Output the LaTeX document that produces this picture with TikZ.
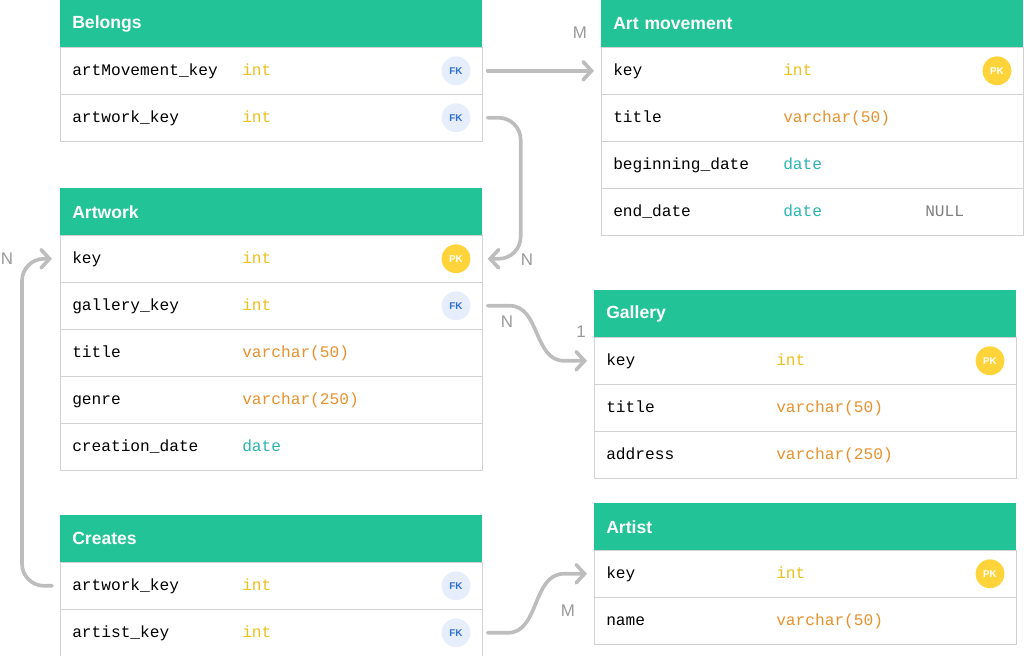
\documentclass[tikz,border=0pt]{standalone}
\usepackage{fontspec}
\setmainfont{Liberation Sans}
\setmonofont{Liberation Mono}
\usetikzlibrary{arrows.meta,calc}
\definecolor{hdrgreen}{HTML}{22C497}
\definecolor{intc}{HTML}{EDC01E}
\definecolor{varc}{HTML}{E8912D}
\definecolor{datec}{HTML}{2BB5B3}
\definecolor{rule}{HTML}{D2D2D2}
\definecolor{linkc}{HTML}{BDBDBD}
\definecolor{fkfill}{HTML}{E6EEFB}
\definecolor{fkblue}{HTML}{2F6FD6}
\definecolor{pkfill}{HTML}{FFD43B}
\tikzset{
  hdr/.style={fill=hdrgreen, text=white, font=\fontsize{12.5}{14}\selectfont\bfseries,
    anchor=north west, minimum width=10.55cm, minimum height=1.175cm,
    text width=9.95cm, inner xsep=0.3cm, align=left},
  rowbox/.style={draw=rule, fill=white, anchor=north west,
    minimum width=10.55cm, minimum height=1.175cm},
  fld/.style={anchor=base west, inner sep=0pt, font=\ttfamily\fontsize{11.5}{13}\selectfont},
  tint/.style={fld, text=intc}, tvar/.style={fld, text=varc}, tdate/.style={fld, text=datec},
  pk/.style={circle, fill=pkfill, text=white, minimum size=0.72cm, inner sep=0pt,
    font=\fontsize{7}{8}\selectfont\bfseries, node contents=PK},
  fk/.style={circle, fill=fkfill, text=fkblue, minimum size=0.72cm, inner sep=0pt,
    font=\fontsize{7}{8}\selectfont\bfseries, node contents=FK},
  nob/.style={inner sep=0pt, node contents={}},
  link/.style={draw=linkc, line width=2.6pt, line cap=round,
    -{Straight Barb[length=6pt,width=13pt,line cap=round]}},
  card/.style={text=gray!80, font=\fontsize{12}{14}\selectfont}
}
% #1 name, #2 x, #3 y, #4 title, #5 rows name/type/type style/badge
\newcommand\erTable[5]{%
  \node[hdr] (#1) at (#2,#3) {#4};
  \foreach \nm/\ty/\ts/\bd [count=\i] in {#5} {
    \node[rowbox] (#1-\i) at (#2,{#3+47*\i}) {};
    \node[fld] at ($(#1-\i.west)+(12,5)$) {\nm};
    \node[\ts] at ($(#1-\i.west)+(182,5)$) {\ty};
    \node at ($(#1-\i.west)+(396,0)$) [\bd];
  }%
}
\begin{document}
\begin{tikzpicture}[x=0.025cm,y=-0.025cm]
  \useasboundingbox (0,0) rectangle (1024,656);

  \erTable{bel}{60}{0}{Belongs}{artMovement\_key/int/tint/fk, artwork\_key/int/tint/fk}
  \erTable{am}{601}{0}{Art movement}{key/int/tint/pk, title/varchar(50)/tvar/nob,
    beginning\_date/date/tdate/nob, end\_date/date/tdate/nob}
  \node[fld, text=gray] (null) at ($(am-4.west)+(324,5)$) {NULL};
  \erTable{aw}{60}{188}{Artwork}{key/int/tint/pk, gallery\_key/int/tint/fk,
    title/varchar(50)/tvar/nob, genre/varchar(250)/tvar/nob, creation\_date/date/tdate/nob}
  \erTable{gal}{594}{290}{Gallery}{key/int/tint/pk, title/varchar(50)/tvar/nob,
    address/varchar(250)/tvar/nob}
  \erTable{cr}{60}{515}{Creates}{artwork\_key/int/tint/fk, artist\_key/int/tint/fk}
  \erTable{ar}{594}{503}{Artist}{key/int/tint/pk, name/varchar(50)/tvar/nob}

  % connectors
  \draw[link] ($(bel-1.east)+(5,0)$) -- ($(am-1.west)+(-7,0)$);
  \draw[link, rounded corners=0.55cm] ($(bel-2.east)+(5,0)$) -| ($(aw-1.east)+(38,0)$)
    -- ($(aw-1.east)+(5,0)$);
  \draw[link] ($(aw-2.east)+(5,0)$) -- ++(22,0) to[out=0,in=180] ($(gal-1.west)+(-30,0)$)
    -- ($(gal-1.west)+(-7,0)$);
  \draw[link, rounded corners=0.55cm] ($(cr-1.west)+(-8,0)$) -| ($(aw-1.west)+(-38,0)$)
    -- ($(aw-1.west)+(-8,0)$);
  \draw[link] ($(cr-2.east)+(5,0)$) -- ++(20,0) to[out=0,in=180] ($(ar-1.west)+(-30,0)$)
    -- ($(ar-1.west)+(-7,0)$);

  % cardinalities
  \node[card] (m1) at (580,33) {M};
  \node[card] (n1) at (527,260) {N};
  \node[card] (n2) at (507,322) {N};
  \node[card] (o1) at (581,332) {1};
  \node[card] (n3) at (7,259) {N};
  \node[card] (m2) at (568,611) {M};
\end{tikzpicture}
\end{document}
